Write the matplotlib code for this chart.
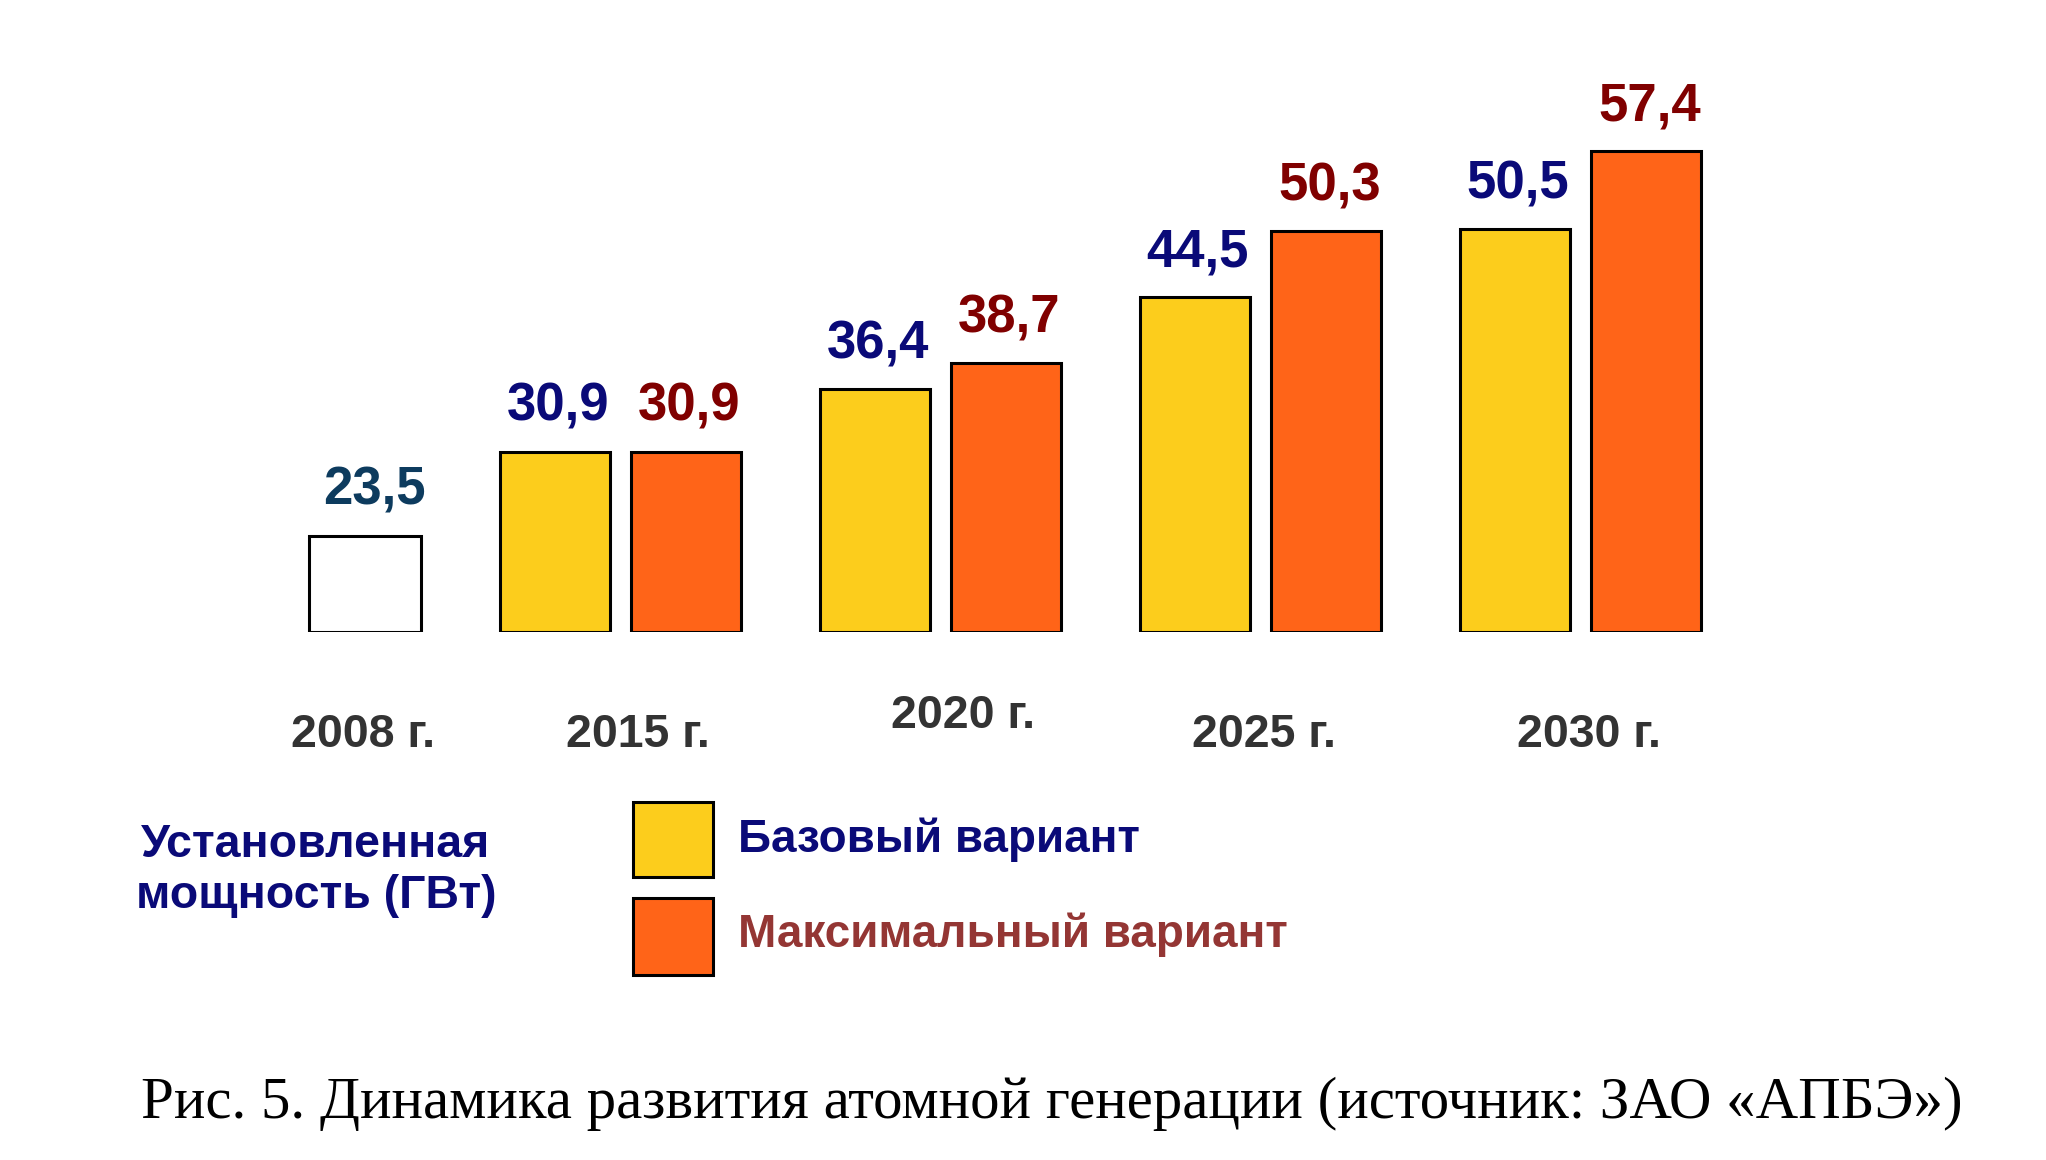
import matplotlib
matplotlib.use('Agg')
import matplotlib.pyplot as plt
from matplotlib.patches import Rectangle
import numpy as np

plt.rcParams['font.family'] = ['Liberation Sans', 'DejaVu Sans']

# Dati
anni = ['2008 г.', '2015 г.', '2020 г.', '2025 г.', '2030 г.']
valore_2008 = 23.5
base = [30.9, 36.4, 44.5, 50.5]
massimo = [30.9, 38.7, 50.3, 57.4]
etichetta_base = 'Базовый вариант'
etichetta_max = 'Максимальный вариант'
titolo_asse = ['Установленная', 'мощность (ГВт)']
didascalia = 'Рис. 5. Динамика развития атомной генерации (источник: ЗАО «АПБЭ»)'

# Colori
giallo = '#FCCD1C'
arancio = '#FF6418'
blu = '#0A0A78'
rosso = '#800000'
blu_2008 = '#0D3B5E'
grigio = '#333333'
rosso_leg = '#943634'

W, H = 2046, 1160
fig = plt.figure(figsize=(W / 100, H / 100), dpi=100)
fondo = 15
ax = fig.add_axes([140.5 / W, (H - 632) / H, 1600 / W, 567.5 / H])
ax.set_xlim(-0.5, 4.5)
ax.set_ylim(fondo, 65)
ax.axis('off')

# posizioni dei gruppi
x_2008 = 0.2
xg = np.array([1, 2, 3, 4])
off = 0.206
larg = 0.344

ax.bar(x_2008, valore_2008 - fondo, bottom=fondo, width=0.35,
       color='white', edgecolor='black', linewidth=2.2)
ax.bar(xg - off, np.array(base) - fondo, bottom=fondo, width=larg,
       color=giallo, edgecolor='black', linewidth=2.2)
ax.bar(xg + off, np.array(massimo) - fondo, bottom=fondo, width=larg,
       color=arancio, edgecolor='black', linewidth=2.2)

def fmt(v):
    return f'{v:.1f}'.replace('.', ',')

ax.annotate(fmt(valore_2008), (x_2008 + 0.03, valore_2008), xytext=(0, 22),
            textcoords='offset points', ha='center', va='baseline',
            fontsize=38, fontweight='bold', color=blu_2008)
for xi, v in zip(xg - off, base):
    ax.annotate(fmt(v), (xi + 0.01, v), xytext=(0, 22), textcoords='offset points',
                ha='center', va='baseline', fontsize=38, fontweight='bold', color=blu)
for xi, v in zip(xg + off, massimo):
    ax.annotate(fmt(v), (xi + 0.01, v), xytext=(0, 22), textcoords='offset points',
                ha='center', va='baseline', fontsize=38, fontweight='bold', color=rosso)

# etichette anni
x_anni = [0.195, 1.055, 2.07, 3.011, 4.027]
y_anni = [-0.202, -0.202, -0.169, -0.202, -0.202]
for xa, ya, t in zip(x_anni, y_anni, anni):
    ax.text(xa, ya, t, transform=ax.get_xaxis_transform(), ha='center',
            va='baseline', fontsize=33.5, fontweight='bold', color=grigio)

# titolo asse
fig.text(316 / W, 1 - 857 / H, titolo_asse[0], ha='center', va='baseline',
         fontsize=33.5, fontweight='bold', color=blu)
fig.text(316 / W, 1 - 908 / H, titolo_asse[1], ha='center', va='baseline',
         fontsize=33.5, fontweight='bold', color=blu)

# legenda (riquadri + testo)
for (y0, y1), col, lab, tcol, yb in [((802, 877), giallo, etichetta_base, blu, 852),
                                      ((898, 975), arancio, etichetta_max, rosso_leg, 947)]:
    fig.add_artist(Rectangle((633 / W, 1 - y1 / H), 80 / W, (y1 - y0) / H,
                             transform=fig.transFigure, facecolor=col,
                             edgecolor='black', linewidth=2.2))
    fig.text(738 / W, 1 - yb / H, lab, ha='left', va='baseline',
             fontsize=33, fontweight='bold', color=tcol)

# didascalia
fig.text(141 / W, 1 - 1118 / H, didascalia, ha='left', va='baseline',
         fontsize=42.4, family='Liberation Serif', color='black')

fig.savefig('out.png', dpi=100)
